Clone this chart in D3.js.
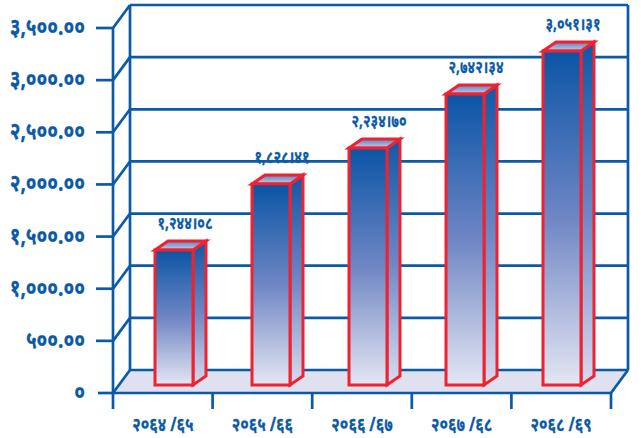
<!DOCTYPE html>
<html><head><meta charset="utf-8">
<script src="https://cdn.jsdelivr.net/npm/d3@7/dist/d3.min.js"></script>
<style>html,body{margin:0;padding:0;background:#fff}svg{display:block}
text{font-family:"Noto Sans","Noto Sans Devanagari","DejaVu Sans",sans-serif;fill:#0b5aa6;stroke:#0b5aa6;stroke-width:.3;font-weight:700}</style>
</head><body><svg id="c" width="641" height="438"></svg>
<script>
const categories=["२०६४ /६५","२०६५ /६६","२०६६ /६७","२०६७ /६८","२०६८ /६९"];
const barValues=[1294,1928,2272,2790,3202];
const valueLabels=["१,२४४।०८","१,८२८।४१","२,२३४।७०","२,७४२।३४","३,०५१।३१"];
const tickValues=[0,500,1000,1500,2000,2500,3000,3500];
const tickLabels=["०","५००.००","१,०००.००","१,५००.००","२,०००.००","२,५००.००","३,०००.००","३,५००.००"];

const blue="#0b5aa6",red="#ee2230",floorC="#dfe1f1";
const svg=d3.select("#c");
const dx=17,dy=23;
const L=113,R=611;
const y=d3.scaleLinear().domain([0,3500]).range([393,28]);
const x=d3.scaleBand().domain(categories).range([L,R]);
const xBar=d3.scaleBand().domain(categories).range([155,155+97*5]);

const defs=svg.append("defs");
function grad(id,stops){
  const g=defs.append("linearGradient").attr("id",id).attr("x1",0).attr("y1",0).attr("x2",0).attr("y2",1);
  stops.forEach(s=>g.append("stop").attr("offset",s[0]).attr("stop-color",s[1]));
}
grad("front",[[0,"#0a55a5"],[.5,"#6f86c4"],[1,"#e4e6f3"]]);
grad("side",[[0,"#0f58a6"],[.5,"#6f86c4"],[1,"#d9dcef"]]);
grad("top",[[0,"#5f7fbe"],[1,"#c9d0ea"]]);

function poly(pts){const p=d3.path();pts.forEach((q,i)=>i?p.lineTo(q[0],q[1]):p.moveTo(q[0],q[1]));p.closePath();return p.toString();}
function line(a,b,w,c){svg.append("line").attr("x1",a[0]).attr("y1",a[1]).attr("x2",b[0]).attr("y2",b[1])
  .attr("stroke",c||blue).attr("stroke-width",w||2.7);}
function label(px,py,anchor,size,t){
  svg.append("text").attr("transform",`translate(${px},${py}) scale(.8,1)`)
    .attr("text-anchor",anchor).attr("font-size",size).text(t);
}

svg.append("path").attr("d",poly([[L,y(0)],[L+dx,y(0)-dy],[R+dx,y(0)-dy],[R,y(0)]])).attr("fill",floorC);

tickValues.forEach(v=>{
  const yy=y(v);
  line([L+dx,yy-dy],[R+dx,yy-dy]);
  line([L,yy],[L+dx,yy-dy]);
  line([v===0?98:96,yy],[L,yy]);
});
line([L,y(0)],[L,y(3500)]);
line([L+dx,y(0)-dy],[L+dx,y(3500)-dy]);
line([R+dx,y(0)-dy],[R+dx,y(3500)-dy]);
line([R,y(0)],[R+dx,y(0)-dy]);
line([L,y(0)],[R,y(0)]);
d3.range(categories.length+1).forEach(i=>{
  const xx=L+i*x.step();
  line([xx,y(0)],[xx,y(0)+16]);
});

const bw=38,bdx=13,bdy=9,base=385;
const yBar=v=>base-(y(0)-y(v));
svg.append("g").selectAll("g").data(barValues).join("g").each(function(v,i){
  const s=d3.select(this),x0=xBar(categories[i]),top=yBar(v);
  s.append("path").attr("d",poly([[x0+bw,top],[x0+bw+bdx,top-bdy],[x0+bw+bdx,base-bdy],[x0+bw,base]]))
    .attr("fill","url(#side)").attr("stroke",red).attr("stroke-width",3);
  s.append("path").attr("d",poly([[x0,top],[x0+bdx,top-bdy],[x0+bw+bdx,top-bdy],[x0+bw,top]]))
    .attr("fill","url(#top)").attr("stroke",red).attr("stroke-width",3);
  s.append("rect").attr("x",x0).attr("y",top).attr("width",bw).attr("height",base-top)
    .attr("fill","url(#front)").attr("stroke",red).attr("stroke-width",3);
  label(x0+bw/2+11,top-21,"middle",17,valueLabels[i]);
});

tickValues.forEach((v,i)=>label(85,y(v)+7,"end",24,tickLabels[i]));
categories.forEach(c=>label(x(c)+x.bandwidth()/2,431,"middle",19,c));
</script></body></html>
